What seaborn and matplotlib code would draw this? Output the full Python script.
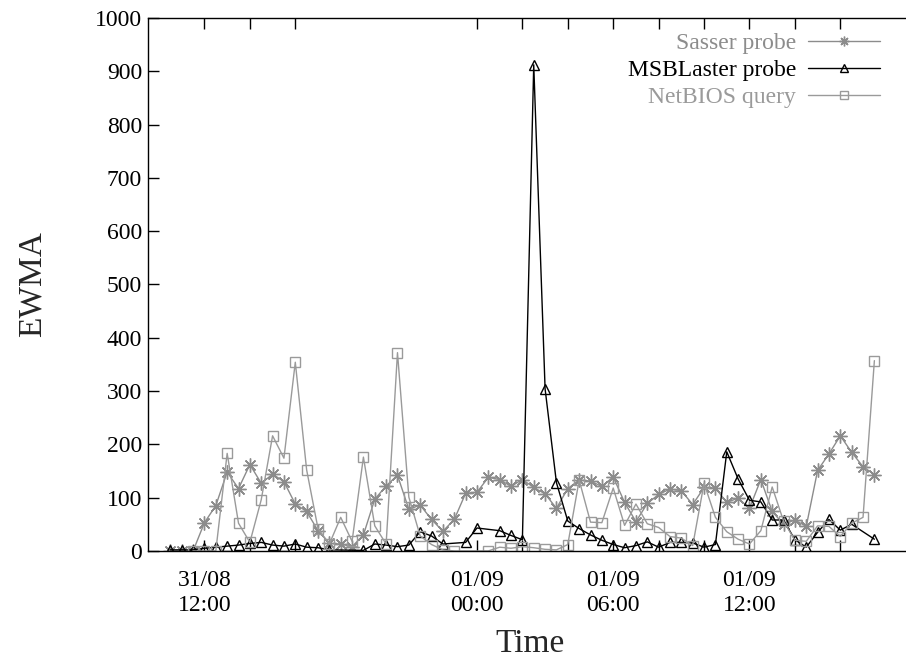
import numpy as np
import pandas as pd
import matplotlib
matplotlib.use("Agg")
import matplotlib.pyplot as plt
import seaborn as sns

# half-hourly samples, hours counted from 31/08 00:00
hours = np.arange(10.5, 42.0, 0.5)

sasser = [0, 0, 0, 53, 85, 148, 117, 162, 127, 144,
          130, 88, 74, 38, 14, 13, 8, 30, 97, 122,
          142, 78, 86, 59, 37, 59, 108, 110, 138, 134,
          121, 134, 119, 107, 80, 117, 133, 131, 121, 139,
          91, 55, 89, 106, 116, 113, 87, 119, 118, 91,
          99, 80, 134, 74, 50, 58, 46, 151, 182, 216,
          185, 158, 143]

msblaster = [2, 2, 2, 5, 7, 9, 11, 14, 16, 11,
             9, 13, 7, 6, 2, None, None, 1, 13, 11,
             8, 11, 36, 28, 13, None, 16, 43, None, 38,
             29, 21, 912, 304, 128, 56, 42, 30, 20, 12,
             6, 10, 17, 7, 16, 16, 15, 7, 12, 186,
             135, 95, 92, 58, 58, 21, 7, 35, 59, 39,
             50, None, 22]

netbios = [None, None, 0, 0, 0, 183, 52, 16, 96, 216,
           174, 354, 152, 42, 13, 63, 18, 176, 47, 13,
           372, 101, 28, 12, 2, 0, None, None, 0, 7,
           5, 8, 6, 3, 2, 12, 133, 54, 53, 118,
           48, 88, 51, 44, 27, 24, 10, 127, 63, 36,
           22, 13, 38, 120, 56, 20, 18, 47, 46, 27,
           52, 63, 357]

tick_hours = [12, 14, 16, 24, 26, 28, 30, 32, 34, 36, 38, 40]
tick_labels = ["31/08\n12:00", "", "", "01/09\n00:00", "", "",
               "01/09\n06:00", "", "", "01/09\n12:00", "", ""]

df = pd.DataFrame({"hour": hours, "sasser": sasser,
                   "msblaster": msblaster, "netbios": netbios})

sns.set_style("ticks")
plt.rcParams["font.family"] = ["Liberation Serif", "DejaVu Serif"]

fig = plt.figure(figsize=(9.06, 6.59), dpi=100)
ax = fig.add_axes([0.163, 0.164, 0.8397, 0.8088])

# column, legend text, colour, marker, marker size
series = [
    ("sasser", "Sasser probe", "#8c8c8c", (8, 2, 0), 10),
    ("msblaster", "MSBLaster probe", "#000000", "^", 7.5),
    ("netbios", "NetBIOS query", "#9a9a9a", "s", 7.5),
]

for col, label, color, marker, ms in series:
    d = df[["hour", col]].dropna()
    sns.lineplot(data=d, x="hour", y=col, ax=ax, color=color, label=label,
                 errorbar=None, linewidth=1.0, marker=marker, markersize=ms,
                 markerfacecolor="none", markeredgecolor=color,
                 markeredgewidth=1.0)

ax.set_xlim(9.5, 43)
ax.set_ylim(0, 1000)
ax.set_yticks(range(0, 1001, 100))
ax.set_xticks(tick_hours)
ax.set_xticklabels(tick_labels, linespacing=1.25)

ax.tick_params(direction="in", length=8, width=1, labelsize=17,
               top=True, right=False, colors="black")
ax.tick_params(axis="x", pad=14)
ax.tick_params(axis="y", pad=4)
for s in ax.spines.values():
    s.set_linewidth(1)
    s.set_color("black")

ax.set_xlabel("Time", fontsize=24)
ax.set_ylabel("EWMA", fontsize=24)
ax.xaxis.set_label_coords(0.503, -0.145)
ax.yaxis.set_label_coords(-0.131, 0.5)

ax.legend(loc="upper right", bbox_to_anchor=(0.9625, 0.973), frameon=False,
          markerfirst=False, handlelength=3.05, handletextpad=0.5,
          labelspacing=0.24, borderaxespad=0, borderpad=0, fontsize=17,
          markerscale=0.7, labelcolor="linecolor")

fig.savefig("out.png", dpi=100)
